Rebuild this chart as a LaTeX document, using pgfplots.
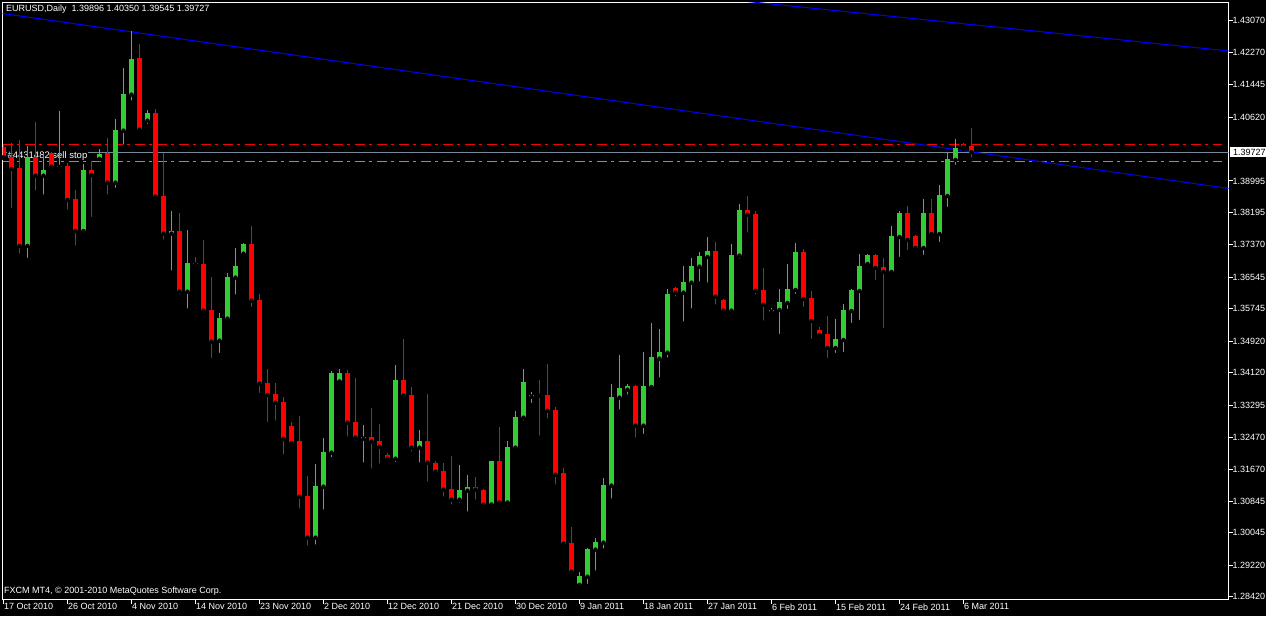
\documentclass[border=0pt]{standalone}
\usepackage{pgfplots}
\pgfplotsset{compat=1.18}
\usepackage{pgfplotstable}
\usepackage{fontspec}
\setmainfont{Liberation Sans}
\definecolor{mtgreen}{RGB}{50,205,50}
\definecolor{mtred}{RGB}{255,0,0}
\definecolor{mtgray}{RGB}{119,136,153}
\definecolor{mtblue}{RGB}{0,0,255}

% bullish candles: index open high low close
\pgfplotstableread{
i o h l c
3 1.37342 1.39886 1.36986 1.39614
5 1.39130 1.39700 1.38596 1.39275
7 1.39352 1.40784 1.39301 1.39377
10 1.37724 1.39428 1.37698 1.39275
12 1.39555 1.39802 1.39555 1.39682
14 1.38952 1.40572 1.38767 1.40293
15 1.40275 1.41862 1.39868 1.41208
16 1.41190 1.42811 1.40987 1.42098
18 1.40529 1.40801 1.40394 1.40725
21 1.37655 1.38232 1.36663 1.37724
23 1.36180 1.37749 1.35697 1.36902
27 1.34934 1.35631 1.34570 1.35511
28 1.35493 1.36648 1.35391 1.36554
29 1.36536 1.37291 1.36053 1.36834
30 1.37146 1.37426 1.37088 1.37393
39 1.29923 1.31798 1.29694 1.31238
40 1.31220 1.32459 1.30584 1.32103
41 1.32085 1.34163 1.31917 1.34112
42 1.33891 1.34214 1.33891 1.34112
45 1.32441 1.32790 1.31780 1.32484
49 1.31932 1.34316 1.31798 1.33934
52 1.32212 1.32662 1.31780 1.32383
57 1.30890 1.31772 1.30763 1.31136
58 1.31119 1.31518 1.30534 1.31213
61 1.30763 1.31874 1.30763 1.31874
63 1.30813 1.32383 1.30813 1.32230
64 1.32212 1.33146 1.32161 1.32993
65 1.32975 1.34214 1.32848 1.33883
66 1.33509 1.33629 1.33298 1.33553
72 1.28720 1.29051 1.28720 1.28949
73 1.28931 1.29661 1.28695 1.29636
74 1.29618 1.29916 1.29033 1.29814
75 1.29796 1.31442 1.29593 1.31264
76 1.31246 1.33832 1.30864 1.33502
77 1.33484 1.34570 1.33128 1.33731
78 1.33687 1.33832 1.33509 1.33782
80 1.32772 1.34646 1.32510 1.33782
81 1.33756 1.35384 1.33731 1.34519
82 1.34476 1.35231 1.33942 1.34646
83 1.34628 1.36249 1.34450 1.36121
85 1.36155 1.36834 1.35366 1.36427
86 1.36409 1.37037 1.35697 1.36834
87 1.36816 1.37190 1.36383 1.37088
88 1.37063 1.37571 1.36358 1.37215
91 1.35697 1.37393 1.35671 1.37113
92 1.37096 1.38411 1.36968 1.38258
96 1.35671 1.35765 1.35595 1.35715
97 1.35715 1.36249 1.35053 1.35918
98 1.35893 1.36884 1.35689 1.36249
99 1.36223 1.37419 1.36071 1.37190
104 1.34748 1.35486 1.34570 1.34977
105 1.34951 1.35867 1.34595 1.35715
106 1.35689 1.36249 1.35333 1.36223
107 1.36198 1.37139 1.35409 1.36834
108 1.36884 1.37139 1.36834 1.37113
111 1.36681 1.37851 1.36656 1.37597
112 1.37571 1.38232 1.37012 1.38182
115 1.37291 1.38538 1.37063 1.38182
117 1.37647 1.38894 1.37393 1.38639
118 1.38614 1.39733 1.38283 1.39555
119 1.39530 1.40064 1.39352 1.39835
}\upbars

% bearish candles
\pgfplotstableread{
i o h l c
0 1.39868 1.39911 1.39580 1.39598
1 1.39614 1.39954 1.38258 1.39301
2 1.39334 1.40038 1.37096 1.37342
4 1.39614 1.40504 1.38698 1.39130
6 1.39700 1.39741 1.39339 1.39359
8 1.39385 1.39446 1.38215 1.38512
9 1.38538 1.38767 1.37299 1.37724
11 1.39275 1.39504 1.38029 1.39148
13 1.39700 1.40082 1.38596 1.38952
17 1.42124 1.42480 1.40209 1.40300
19 1.40717 1.40827 1.38545 1.38596
20 1.38614 1.39700 1.37452 1.37655
22 1.37724 1.38174 1.36053 1.36180
24 1.36910 1.37055 1.36765 1.36867
25 1.36884 1.37495 1.35595 1.35697
26 1.35715 1.36561 1.34443 1.34908
31 1.37393 1.37851 1.35740 1.35951
32 1.35969 1.36121 1.33553 1.33840
33 1.33858 1.34214 1.32815 1.33553
34 1.33578 1.33850 1.32848 1.33357
35 1.33375 1.33502 1.31983 1.32434
36 1.32764 1.32866 1.32281 1.32332
37 1.32383 1.33019 1.30610 1.30966
38 1.30984 1.31492 1.29669 1.29923
43 1.34112 1.34188 1.32441 1.32848
44 1.32866 1.33977 1.32339 1.32467
46 1.32484 1.33222 1.31627 1.32365
47 1.32383 1.32815 1.31754 1.32238
48 1.32027 1.32070 1.31882 1.31932
50 1.33934 1.34977 1.33509 1.33535
51 1.33553 1.33756 1.32060 1.32212
53 1.32383 1.33578 1.31297 1.31831
54 1.31823 1.31874 1.31500 1.31602
55 1.31620 1.31823 1.30915 1.31144
56 1.31162 1.32009 1.30712 1.30890
59 1.31213 1.31467 1.30839 1.31144
60 1.31136 1.31154 1.30686 1.30763
62 1.31874 1.32739 1.30813 1.30813
67 1.33553 1.33934 1.32467 1.33535
68 1.33553 1.34341 1.32899 1.33153
69 1.33171 1.33240 1.31220 1.31526
70 1.31561 1.31696 1.29669 1.29771
71 1.29788 1.30195 1.29033 1.29058
79 1.33782 1.33807 1.32416 1.32772
84 1.36274 1.36299 1.36002 1.36155
89 1.37215 1.37444 1.35798 1.36053
90 1.35969 1.35994 1.35671 1.35697
93 1.38258 1.38614 1.37630 1.38138
94 1.38156 1.38232 1.36053 1.36205
95 1.36223 1.36783 1.35391 1.35849
100 1.37190 1.37266 1.35740 1.35994
101 1.36020 1.36198 1.34926 1.35435
102 1.35206 1.35282 1.34977 1.35079
103 1.35104 1.35562 1.34443 1.34748
109 1.37113 1.37139 1.36427 1.36783
110 1.36808 1.37037 1.35206 1.36681
113 1.38182 1.38360 1.37190 1.37495
114 1.37597 1.37622 1.37266 1.37291
116 1.38182 1.38538 1.37597 1.37647
120 1.39937 1.39962 1.39809 1.39860
121 1.39896 1.40350 1.39545 1.39727
}\downbars

\newcommand{\mtfont}{\fontsize{9}{10}\selectfont}

\begin{document}
\begin{tikzpicture}[x=1pt,y=1pt]
\fill[black] (-2.5,-16.5) rectangle (1263.5,599.5);
\useasboundingbox (-2.5,-16.5) rectangle (1263.5,599.5);
\begin{axis}[
  at={(0pt,0pt)}, anchor=south west,
  scale only axis, width=1226pt, height=597pt,
  xmin=-0.125, xmax=153.125, ymin=1.28351, ymax=1.43535,
  axis background/.style={fill=black},
  axis line style={white, line width=1pt},
  xtick={0,8,16,24,32,40,48,56,64,72,80,88,96,104,112,120},
  xticklabels={17 Oct 2010,26 Oct 2010,4 Nov 2010,14 Nov 2010,23 Nov 2010,2 Dec 2010,12 Dec 2010,21 Dec 2010,30 Dec 2010,9 Jan 2011,18 Jan 2011,27 Jan 2011,6 Feb 2011,15 Feb 2011,24 Feb 2011,6 Mar 2011},
  ytick={1.43070,1.42270,1.41445,1.40620,1.38995,1.38195,1.37370,1.36545,1.35745,1.34920,1.34120,1.33295,1.32470,1.31670,1.30845,1.30045,1.29220,1.28420},
  yticklabels={1.43070,1.42270,1.41445,1.40620,1.38995,1.38195,1.37370,1.36545,1.35745,1.34920,1.34120,1.33295,1.32470,1.31670,1.30845,1.30045,1.29220,1.28420},
  xtick pos=left, xticklabel pos=left,
  ytick pos=right, yticklabel pos=right,
  tick align=outside,
  major tick length=4pt,
  tick style={white, line width=1pt},
  ticklabel style={text=white, font=\mtfont},
  xticklabel style={anchor=north west, inner sep=0pt, xshift=0.5pt},
  yticklabel style={anchor=west, inner sep=0pt},
]
% horizontal order lines
\addplot[mtgray, line width=1pt, forget plot] coordinates {(-0.125,1.39727) (153.125,1.39727)};
\addplot[mtred, line width=1pt, dash pattern=on 10pt off 4pt on 3pt off 5pt, forget plot] coordinates {(-0.125,1.39929) (152.3,1.39929)};
\addplot[mtgreen, line width=1pt, dash pattern=on 10pt off 4pt on 3pt off 5pt, forget plot] coordinates {(-0.125,1.39497) (152.3,1.39497)};
% trend lines
\addplot[mtblue, line width=1pt, forget plot] coordinates {(-0.125,1.43256) (153.125,1.38805)};
\addplot[mtblue, line width=1pt, forget plot] coordinates {(90,1.43623) (153.125,1.42302)};
% order label
\node[anchor=west, fill=black, inner xsep=0.5pt, inner ysep=1pt, text=white, font=\fontsize{9.5}{10}\selectfont] at (axis cs:0.42,1.39631) {\#4431482 sell stop};
% wicks (low to high)
\addplot[only marks, mark=none, forget plot,
  error bars/.cd, y dir=plus, y explicit, error mark=none,
  error bar style={draw=mtgreen, line width=1pt}]
  table[x=i, y=l, y error plus expr={\thisrow{h}-\thisrow{l}}] {\upbars};
\addplot[only marks, mark=none, forget plot,
  error bars/.cd, y dir=plus, y explicit, error mark=none,
  error bar style={draw=mtred, line width=1pt}]
  table[x=i, y=l, y error plus expr={\thisrow{h}-\thisrow{l}}] {\downbars};
% bodies (open to close)
\addplot[only marks, mark=none, forget plot,
  error bars/.cd, y dir=plus, y explicit, error mark=none,
  error bar style={draw=mtgreen, line width=5pt}]
  table[x=i, y=o, y error plus expr={\thisrow{c}-\thisrow{o}}] {\upbars};
\addplot[only marks, mark=none, forget plot,
  error bars/.cd, y dir=plus, y explicit, error mark=none,
  error bar style={draw=mtred, line width=5pt}]
  table[x=i, y=c, y error plus expr={\thisrow{o}-\thisrow{c}}] {\downbars};
\coordinate (bid) at (axis cs:153.125,1.39727);
\end{axis}
\node[anchor=west, fill=white, text=black, inner xsep=3pt, inner ysep=2pt, font=\mtfont] at ([xshift=1.5pt]bid) {1.39727};
\node[anchor=west, text=white, inner sep=0pt, font=\mtfont] at (3.5,590) {EURUSD,Daily\ \ 1.39896 1.40350 1.39545 1.39727};
\node[anchor=west, text=white, inner sep=0pt, font=\mtfont] at (1.5,8.5) {FXCM MT4, © 2001-2010 MetaQuotes Software Corp.};
\end{tikzpicture}
\end{document}
